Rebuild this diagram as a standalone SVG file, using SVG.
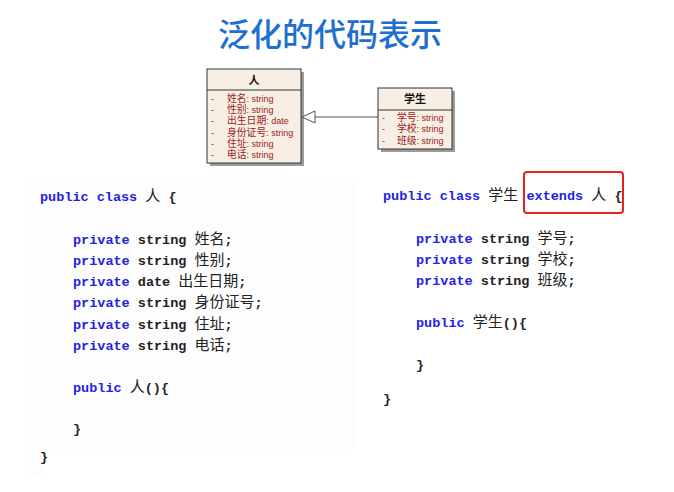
<svg xmlns="http://www.w3.org/2000/svg" width="674" height="492" viewBox="0 0 674 492">
<style>
.title{font-family:"Noto Sans CJK SC","Noto Sans",sans-serif;font-size:32px;font-weight:500;fill:#1e6fd0;}
.code{font-family:"Liberation Mono","DejaVu Sans Mono","Noto Sans CJK SC",monospace;font-size:13.5px;font-weight:bold;fill:#222;}
.kw{fill:#2323e6;}
.cj{font-family:"Noto Sans CJK SC",sans-serif;font-size:15px;font-weight:normal;}
.box{fill:#f7efe3;stroke:#333;stroke-width:1;}
.shadow{fill:#9a9a9a;}
.hdr{font-family:"Noto Sans CJK SC","Liberation Sans",sans-serif;font-size:11px;font-weight:bold;fill:#111;}
.attr{font-family:"Liberation Sans","Noto Sans CJK SC",sans-serif;font-size:9px;fill:#9b1c1c;}
.attrc{font-size:9.8px;}
.conn{stroke:#555;stroke-width:1;fill:none;}
</style>
<rect width="674" height="492" fill="#ffffff"/>
<text class="title" x="330" y="46" text-anchor="middle">泛化的代码表示</text>

<g id="class-ren">
<rect class="shadow" x="210" y="72" width="94" height="94"/>
<rect class="box" x="207" y="69" width="94" height="94"/>
<line x1="207" y1="90" x2="301" y2="90" stroke="#333" stroke-width="1"/>
<text class="hdr" x="254" y="84" text-anchor="middle">人</text>
<text class="attr" y="101.8"><tspan x="211">-</tspan><tspan x="227" class="attrc">姓名</tspan>: string</text>
<text class="attr" y="113.1"><tspan x="211">-</tspan><tspan x="227" class="attrc">性别</tspan>: string</text>
<text class="attr" y="124.4"><tspan x="211">-</tspan><tspan x="227" class="attrc">出生日期</tspan>: date</text>
<text class="attr" y="135.7"><tspan x="211">-</tspan><tspan x="227" class="attrc">身份证号</tspan>: string</text>
<text class="attr" y="147"><tspan x="211">-</tspan><tspan x="227" class="attrc">住址</tspan>: string</text>
<text class="attr" y="158.3"><tspan x="211">-</tspan><tspan x="227" class="attrc">电话</tspan>: string</text>
</g>

<g id="class-xuesheng">
<rect class="shadow" x="381" y="91" width="74" height="61"/>
<rect class="box" x="378" y="88" width="74" height="61"/>
<line x1="378" y1="110" x2="452" y2="110" stroke="#333" stroke-width="1"/>
<text class="hdr" x="415" y="103" text-anchor="middle">学生</text>
<text class="attr" y="121"><tspan x="382">-</tspan><tspan x="397" class="attrc">学号</tspan>: string</text>
<text class="attr" y="132.3"><tspan x="382">-</tspan><tspan x="397" class="attrc">学校</tspan>: string</text>
<text class="attr" y="143.6"><tspan x="382">-</tspan><tspan x="397" class="attrc">班级</tspan>: string</text>
</g>

<g id="connectors">
<line class="conn" x1="378" y1="117" x2="315" y2="117"/>
<polygon points="302,117 315,111 315,123" fill="#ffffff" stroke="#555" stroke-width="1"/>
</g>

<g id="code-ren">
<rect x="30" y="178" width="325" height="272" fill="#fdfdfd"/>
<rect x="30" y="450" width="15" height="26" fill="#fdfdfd"/>
<text class="code" x="40" y="201"><tspan class="kw">public class</tspan> <tspan class="cj">人</tspan> {</text>
<text class="code" x="73" y="244"><tspan class="kw">private</tspan> string <tspan class="cj">姓名</tspan>;</text>
<text class="code" x="73" y="265"><tspan class="kw">private</tspan> string <tspan class="cj">性别</tspan>;</text>
<text class="code" x="73" y="286"><tspan class="kw">private</tspan> date <tspan class="cj">出生日期</tspan>;</text>
<text class="code" x="73" y="307"><tspan class="kw">private</tspan> string <tspan class="cj">身份证号</tspan>;</text>
<text class="code" x="73" y="329"><tspan class="kw">private</tspan> string <tspan class="cj">住址</tspan>;</text>
<text class="code" x="73" y="350"><tspan class="kw">private</tspan> string <tspan class="cj">电话</tspan>;</text>
<text class="code" x="73" y="392"><tspan class="kw">public</tspan> <tspan class="cj">人</tspan>(){</text>
<text class="code" x="73" y="433">}</text>
<text class="code" x="40" y="461">}</text>
</g>

<g id="code-xuesheng">
<text class="code" x="383" y="200"><tspan class="kw">public class</tspan> <tspan class="cj">学生</tspan> <tspan class="kw">extends</tspan> <tspan class="cj">人</tspan> {</text>
<text class="code" x="416" y="243"><tspan class="kw">private</tspan> string <tspan class="cj">学号</tspan>;</text>
<text class="code" x="416" y="264"><tspan class="kw">private</tspan> string <tspan class="cj">学校</tspan>;</text>
<text class="code" x="416" y="285"><tspan class="kw">private</tspan> string <tspan class="cj">班级</tspan>;</text>
<text class="code" x="416" y="327"><tspan class="kw">public</tspan> <tspan class="cj">学生</tspan>(){</text>
<text class="code" x="416" y="369">}</text>
<text class="code" x="383" y="403">}</text>
<rect x="524" y="172" width="99" height="41" rx="3" fill="none" stroke="#e8231f" stroke-width="2"/>
</g>
</svg>
